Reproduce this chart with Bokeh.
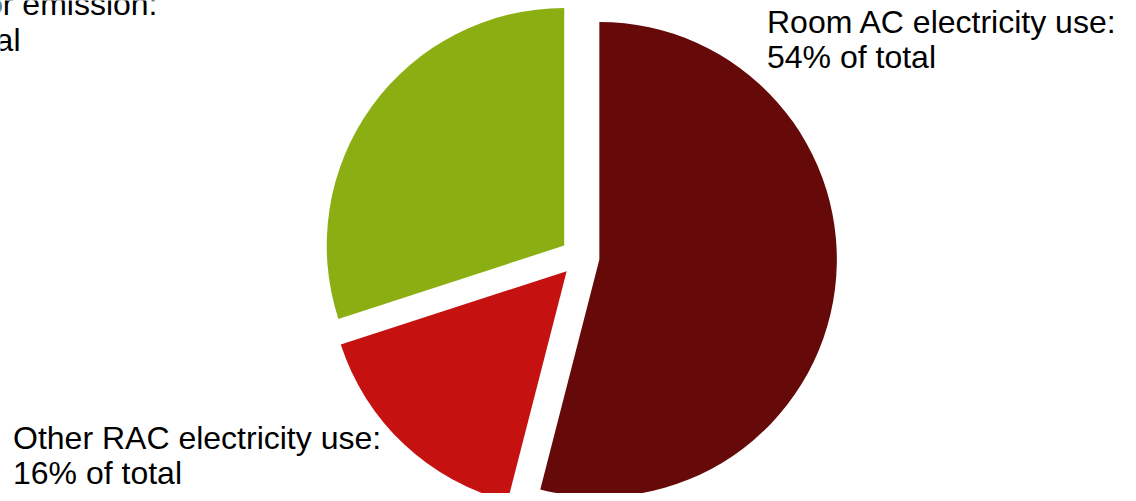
import math
from bokeh.plotting import figure
from bokeh.models import Range1d, ColumnDataSource
from bokeh.core.properties import value
from bokeh.embed import file_html
from bokeh.resources import INLINE

# ---- data ----
categories = ["Room AC electricity use", "Refrigerator emission", "Other RAC electricity use"]
shares = [54, 30, 16]
colors = ["#650909", "#8BAF13", "#C61111"]
label_line1 = ["Room AC electricity use:", "Refrigerator emission:", "Other RAC electricity use:"]
label_line2 = ["54% of total", "30% of total", "16% of total"]

W, H = 1128, 493
PAGE_H = 501

p = figure(width=W, height=H, output_backend="svg", toolbar_location=None,
           x_range=Range1d(0, W), y_range=Range1d(PAGE_H - H, PAGE_H), min_border=0)
p.axis.visible = False
p.grid.visible = False
p.outline_line_color = None
p.background_fill_color = "white"
p.border_fill_color = "white"

cx, cy = 579.5, PAGE_H - 256.5
r = 237.5
d = 19.5

total = float(sum(shares))
sweeps = [s / total * 2 * math.pi for s in shares]
top = math.pi / 2
starts, ends = [], []
starts.append(top - sweeps[0]); ends.append(top)
starts.append(top); ends.append(top + sweeps[1])
starts.append(top + sweeps[1]); ends.append(top + sweeps[1] + sweeps[2])

xs, ys = [], []
for s, e in zip(starts, ends):
    mid = (s + e) / 2
    xs.append(cx + d * math.cos(mid))
    ys.append(cy + d * math.sin(mid))

src = ColumnDataSource(dict(x=xs, y=ys, start=starts, end=ends, color=colors, cat=categories))
p.wedge(x="x", y="y", radius=r, start_angle="start", end_angle="end",
        fill_color="color", line_color=None, source=src)

font = value("Liberation Sans")
fs = "32px"
shift = 10  # empirical baseline correction
p.text(x=[766.5, 766.5], y=[PAGE_H - 31.7 + shift, PAGE_H - 66.7 + shift],
       text=[label_line1[0], label_line2[0]],
       text_font=font, text_font_size=fs, text_color="#000000",
       text_align="left", text_baseline="alphabetic")
p.text(x=[157, 20], y=[PAGE_H - 13.5 + shift, PAGE_H - 49.0 + shift],
       text=[label_line1[1], label_line2[1]],
       text_font=font, text_font_size=fs, text_color="#000000",
       text_align="right", text_baseline="alphabetic")
p.text(x=[12.5, 12.5], y=[PAGE_H - 447.0 + shift, PAGE_H - 482.0 + shift],
       text=[label_line1[2], label_line2[2]],
       text_font=font, text_font_size=fs, text_color="#000000",
       text_align="left", text_baseline="alphabetic")

open("out.html", "w").write(file_html(p, INLINE))
